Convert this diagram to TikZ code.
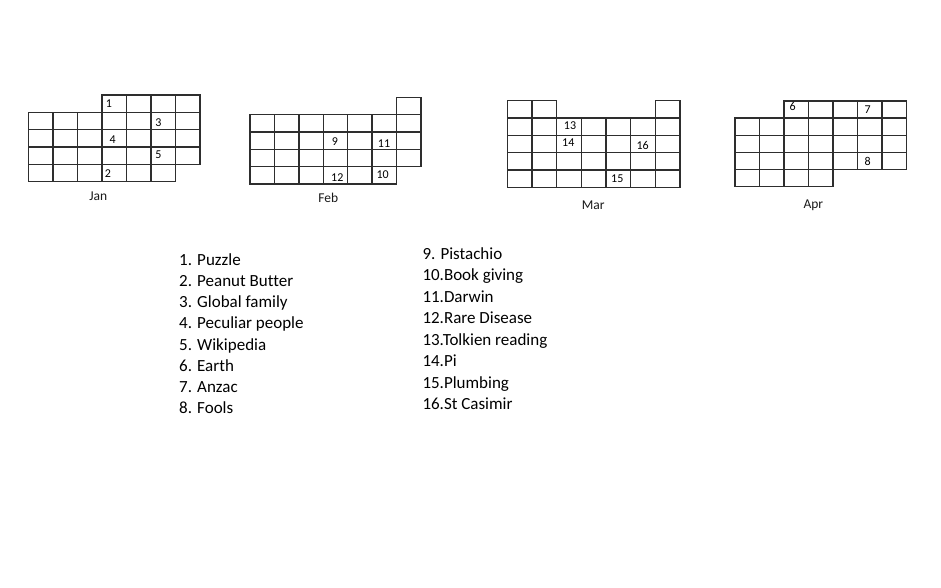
\documentclass[tikz,border=0pt]{standalone}
\usepackage{fontspec}
\setmainfont[Ligatures={NoCommon}]{Carlito}
\newcommand\cellrow[3]{\foreach \cc in {#2,...,#3} {\draw[gridline] (\cc,#1) rectangle ++(1,1);}}
\begin{document}
\begin{tikzpicture}[x=1pt,y=-1pt,
  gridline/.style={line width=1.5pt, draw=black!82},
  daynum/.style={font=\fontsize{12}{12}\selectfont, inner sep=0pt, text=black},
  monthlbl/.style={font=\fontsize{13.5}{14}\selectfont, inner sep=0pt, text=black!90},
  listitem/.style={font=\fontsize{17}{20}\selectfont, inner sep=0pt, anchor=base west, text=black}]
\useasboundingbox[fill=white] (0,0) rectangle (941,588);

% Jan
\begin{scope}[shift={(28.3pt,-95pt)}, x=24.53pt, y=-17.34pt]
  \cellrow{0}{3}{6}
  \cellrow{1}{0}{6}
  \cellrow{2}{0}{6}
  \cellrow{3}{0}{6}
  \cellrow{4}{0}{5}
\end{scope}
% Feb
\begin{scope}[shift={(250pt,-97.3pt)}, x=24.43pt, y=-17.34pt]
  \draw[gridline] (6,0) rectangle ++(1,1);
  \cellrow{1}{0}{6}
  \cellrow{2}{0}{6}
  \cellrow{3}{0}{6}
  \cellrow{4}{0}{5}
\end{scope}
% Mar
\begin{scope}[shift={(507.3pt,-100.7pt)}, x=24.67pt, y=-17.32pt]
  \cellrow{0}{0}{1}
  \draw[gridline] (6,0) rectangle ++(1,1);
  \cellrow{1}{0}{6}
  \cellrow{2}{0}{6}
  \cellrow{3}{0}{6}
  \cellrow{4}{0}{6}
\end{scope}
% Apr
\begin{scope}[shift={(735pt,-101pt)}, x=24.53pt, y=-17.14pt]
  \cellrow{0}{2}{6}
  \cellrow{1}{0}{6}
  \cellrow{2}{0}{6}
  \cellrow{3}{0}{6}
  \cellrow{4}{0}{3}
\end{scope}

% day numbers
\node[daynum] (j1) at (109,104) {1};
\node[daynum] (j3) at (158.3,122.3) {3};
\node[daynum] (j4) at (112.7,140) {4};
\node[daynum] (j5) at (158.3,155) {5};
\node[daynum] (j2) at (108,173.3) {2};
\node[daynum] (f9) at (335,141.7) {9};
\node[daynum] (f11) at (384,143.3) {11};
\node[daynum] (f12) at (337.3,177.7) {12};
\node[daynum] (f10) at (382.7,174.3) {10};
\node[daynum] (m13) at (570,126) {13};
\node[daynum] (m14) at (568.3,142.7) {14};
\node[daynum] (m16) at (642.7,145) {16};
\node[daynum] (m15) at (617.3,179) {15};
\node[daynum] (a6) at (792.7,106.7) {6};
\node[daynum] (a7) at (867.7,109.3) {7};
\node[daynum] (a8) at (867.7,161.7) {8};

% month labels
\node[monthlbl] (jan) at (98.3,196.7) {Jan};
\node[monthlbl] (feb) at (328.3,198.3) {Feb};
\node[monthlbl] (mar) at (593.3,205) {Mar};
\node[monthlbl] (apr) at (813.3,205) {Apr};

% lists
\foreach \t [count=\i] in {1. Puzzle, 2. Peanut Butter, 3. Global family, 4. Peculiar people, 5. Wikipedia, 6. Earth, 7. Anzac, 8. Fools}
  \node[listitem] (l\i) at (179,{265.5+21.15*(\i-1)}) {\t};
\foreach \t [count=\i] in {9. Pistachio, 10.Book giving, 11.Darwin, 12.Rare Disease, 13.Tolkien reading, 14.Pi, 15.Plumbing, 16.St Casimir}
  \node[listitem] (r\i) at (422.3,{259.5+21.43*(\i-1)}) {\t};
\end{tikzpicture}
\end{document}
